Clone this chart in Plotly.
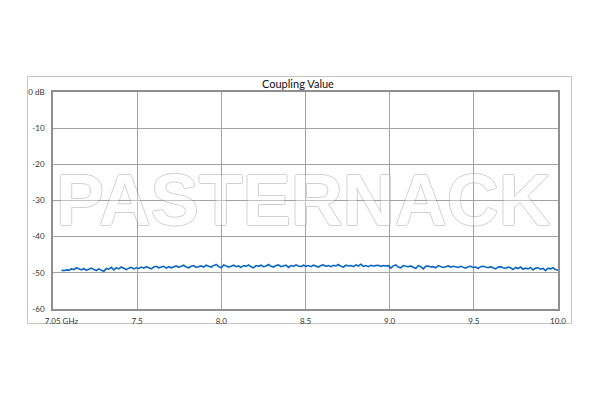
import numpy as np
import plotly.graph_objects as go

title_text = "Coupling Value"
watermark_text = "PASTERNACK"

# Frequency sweep (GHz)
freq_start = 7.05
freq_stop = 10.0

# Coupling values (dB)
coupling_db = [
    -49.3, -49.4, -49.2, -49.3, -48.9, -49.1, -48.6, -49.0, -49.2, -48.8,
    -49.3, -49.0, -48.7, -49.1, -49.4, -48.9, -49.2, -49.6, -48.8, -49.0,
    -48.5, -49.2, -48.6, -48.9, -48.4, -48.8, -49.1, -48.7, -48.5, -48.9,
    -48.6, -48.8, -48.4, -48.7, -48.3, -48.6, -48.9, -48.4, -48.2, -48.6,
    -48.5, -48.2, -48.7, -48.3, -48.6, -48.4, -48.1, -48.5, -48.3, -47.9,
    -48.4, -48.6, -48.2, -48.0, -48.5, -48.3, -48.1, -48.4, -47.9, -48.2,
    -48.4, -48.0, -47.7, -48.3, -48.6, -47.8, -48.1, -48.4, -48.2, -47.9,
    -48.3, -48.1, -48.5, -48.0, -48.2, -47.8, -48.3, -48.6, -48.0, -48.2,
    -47.9, -48.3, -48.1, -47.7, -48.2, -48.4, -48.0, -47.8, -48.3, -48.1,
    -47.9, -48.5, -48.0, -48.2, -47.8, -48.1, -48.3, -47.9, -48.2, -48.0,
    -48.3, -47.9, -48.1, -48.4, -48.0, -47.8, -48.2, -48.0, -48.3, -47.9,
    -48.1, -47.7, -48.2, -48.4, -47.9, -48.1, -48.0, -48.3, -47.8, -48.1,
    -47.6, -48.2, -48.0, -48.3, -47.9, -48.1, -48.0, -47.9, -48.2, -48.0,
    -48.1, -48.0, -48.7, -48.1, -47.8, -48.4, -48.6, -48.0, -48.2, -48.3,
    -48.1, -48.4, -48.8, -48.0, -48.3, -48.9, -48.2, -48.1, -48.4, -48.3,
    -48.6, -48.0, -48.2, -48.5, -48.3, -48.1, -48.4, -48.2, -48.3, -48.5,
    -48.2, -48.4, -48.7, -48.3, -48.2, -48.5, -48.4, -48.8, -48.3, -48.2,
    -48.4, -48.6, -48.3, -48.5, -48.9, -48.4, -48.3, -48.6, -48.8, -48.4,
    -48.6, -49.1, -48.5, -48.8, -48.4, -49.0, -48.7, -48.9, -48.5, -49.2,
    -48.7, -48.6, -49.0, -48.8, -49.4, -48.7, -48.9, -48.6, -49.1, -49.3,
]
freq_ghz = np.linspace(freq_start, freq_stop, len(coupling_db))

x_tick_vals = [7.05, 7.5, 8.0, 8.5, 9.0, 9.5, 10.0]
x_tick_text = ["7.05 GHz", "7.5", "8.0", "8.5", "9.0", "9.5", "10.0"]
x_grid_vals = [7.5, 8.0, 8.5, 9.0, 9.5, 10.0]
y_tick_vals = [0, -10, -20, -30, -40, -50, -60]
y_tick_text = ["0 dB", "-10", "-20", "-30", "-40", "-50", "-60"]

grid_col = "#a3a3a3"
axis_col = "#8f8f8f"
font_fam = "Lato, Open Sans, sans-serif"

fig = go.Figure()
fig.add_trace(go.Scatter(
    x=freq_ghz, y=coupling_db, mode="lines",
    line=dict(color="#0a66c6", width=1.6),
    hoverinfo="skip", showlegend=False,
))

# page body has an 8px margin in the browser
OFF = 8
W, H = 600 - OFF, 400 - OFF
L, T = 53 - OFF, 92 - OFF
R = W - (558 - OFF)
B = H - (309 - OFF)
pw, ph = W - L - R, H - T - B

def px_x(px):
    return (px - OFF - L) / pw

def px_y(py):
    return (H - B - (py - OFF)) / ph

fig.update_layout(
    width=W, height=H,
    margin=dict(l=L, r=R, t=T, b=B, pad=0),
    paper_bgcolor="white", plot_bgcolor="white",
    font=dict(family=font_fam, size=8, color="#333333"),
    showlegend=False,
)

fig.update_xaxes(
    range=[7.0, 10.0],
    tickvals=x_tick_vals, ticktext=x_tick_text,
    showgrid=False, zeroline=False,
    showline=True, linecolor=axis_col, linewidth=1.6, mirror=True,
    ticks="", ticklabelstandoff=4,
    minor=dict(tickvals=x_grid_vals, showgrid=True, gridcolor=grid_col, gridwidth=1.4, ticks=""),
    tickfont=dict(size=8, color="#333333"),
)
fig.update_yaxes(
    range=[-60, 0],
    tickvals=y_tick_vals, ticktext=y_tick_text,
    showgrid=True, gridcolor=grid_col, gridwidth=1.4,
    zeroline=False,
    showline=True, linecolor=axis_col, linewidth=1.6, mirror=True,
    ticks="", ticklabelstandoff=5,
    tickfont=dict(size=8, color="#333333"),
)

# Outer chart frame
fig.add_shape(
    type="rect", xref="paper", yref="paper",
    x0=px_x(27.5), x1=px_x(571.5), y0=px_y(323.5), y1=px_y(76.5),
    line=dict(color="#c6c6c6", width=1), fillcolor="rgba(0,0,0,0)", layer="below",
)

# Title
fig.add_annotation(
    text=title_text, xref="paper", yref="paper",
    x=px_x(298), y=px_y(83.5), xanchor="center", yanchor="middle",
    showarrow=False, font=dict(family=font_fam, size=11, color="#111111"),
)

# Watermark (outlined look)
sc = "#7a7a7a"
shadow = ", ".join(f"{dx}px {dy}px 0 {sc}" for dx, dy in
                   [(1, 0), (-1, 0), (0, 1), (0, -1)])
fig.add_annotation(
    text=watermark_text, xref="paper", yref="paper",
    x=px_x(303), y=px_y(200), xanchor="center", yanchor="middle",
    showarrow=False, opacity=0.34,
    font=dict(family="Liberation Sans, Arial, sans-serif", size=72, color="white",
              weight="bold", shadow=shadow),
)

fig.write_html("out.html")
